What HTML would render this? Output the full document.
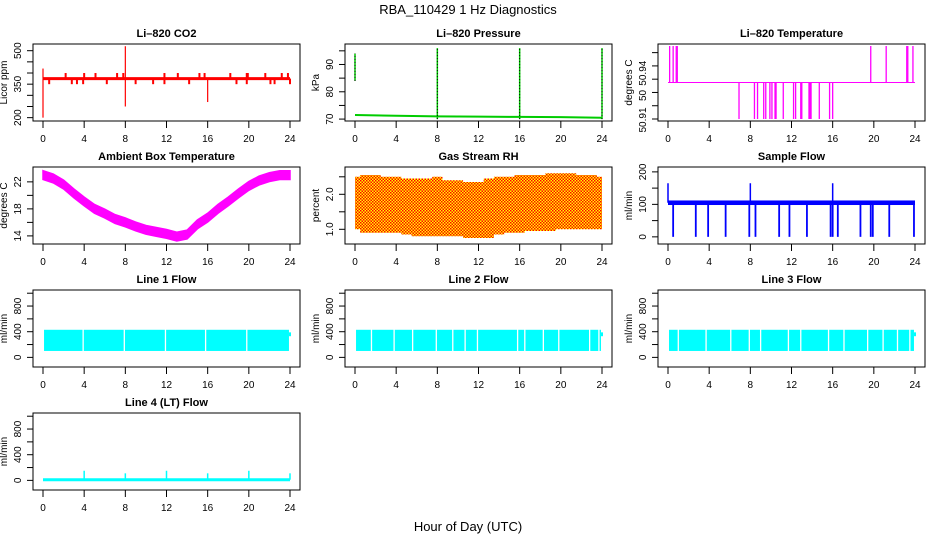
<!DOCTYPE html>
<html><head><meta charset="utf-8"><style>
html,body{margin:0;padding:0;background:#fff;}
svg{display:block;font-family:"Liberation Sans",sans-serif;}
</style></head><body>
<svg id="c" width="936" height="540" viewBox="0 0 936 540">
<text x="468" y="14" font-size="13" text-anchor="middle">RBA_110429  1 Hz Diagnostics</text>
<text x="468" y="531" font-size="13" text-anchor="middle">Hour of Day (UTC)</text>
</svg>
<script>
// ---- data arrays ----
const xTicks = [0,4,8,12,16,20,24];
const co2Base = 375;
const co2UpHours = [2.2,4.0,5.1,7.2,7.8,11.8,13.1,15.2,15.7,18.2,19.8,19.9,21.6,23.2,23.8];
const co2DownHours = [0.6,2.8,3.3,3.9,6.2,9.0,10.7,11.8,14.2,18.8,19.8,22.1,22.5,24];
const co2BigHours = [0,0,8,8,16];
const co2BigValues = [200,420,520,250,270];
const presHours = [0,4,8,12,16,20,24];
const presValues = [71.5,71.2,71.0,70.9,70.8,70.7,70.5];
const presSpikeHours = [0,8,16,24];
const presSpikeLow = [84,70,70,70];
const presSpikeHigh = [94,96,96,96];
const tempBase = 50.9375;
const tempUpHours = [0.16,0.5,0.8,0.9,19.7,21.2,23.2,23.3,23.8];
const tempDownHours = [6.9,8.4,8.7,9.3,9.5,9.9,10.1,10.4,10.5,11.2,12.2,12.4,12.9,13.0,13.7,13.8,13.9,14.7,15.7,16.0];
const ambHours = [0,1,2,3,4,5,6,7,8,9,10,11,12,13,14,15,16,17,18,19,20,21,22,23,24];
const ambValues = [23.0,22.5,21.6,20.3,19.1,18.0,17.3,16.5,16.0,15.4,14.9,14.6,14.3,13.9,14.2,15.7,16.7,18.0,19.1,20.3,21.4,22.2,22.7,23.0,23.0];
const rhTop = [2.5,2.55,2.55,2.5,2.5,2.45,2.45,2.45,2.5,2.4,2.4,2.35,2.35,2.45,2.5,2.5,2.55,2.55,2.55,2.6,2.6,2.6,2.55,2.55,2.5];
const rhBottom = [1.0,0.9,0.9,0.9,0.9,0.85,0.8,0.8,0.8,0.8,0.8,0.75,0.75,0.75,0.85,0.9,0.9,0.95,0.95,0.95,1.0,1.0,1.0,1.0,1.0];
const flowBase = 105;
const flowDownHours = [0.5,2.7,3.9,5.6,7.9,8.5,10.8,11.8,13.5,15.8,16.0,16.5,18.7,19.7,19.9,21.5,23.9];
const flowUpHours = [0,8,16];
const flowUpValue = 165;
const line1Gaps = [3.9,7.9,11.9,15.8,19.8];
const line2Gaps = [1.6,3.8,5.6,7.9,9.5,10.7,11.9,15.8,16.5,18.3,19.8,22.8,23.7];
const line3Gaps = [1.0,3.7,6.1,7.9,9.0,11.7,12.9,15.6,17.1,19.4,20.9,22.3,23.5];
const lineLow = 100, lineHigh = 430;
const line4Base = 10;
const line4SpikeHours = [4,8,12,16,20,24];
const line4SpikeValues = [150,110,150,110,150,110];

const NS="http://www.w3.org/2000/svg";
const svg=document.getElementById('c');
function mk(tag,attrs,parent){const e=document.createElementNS(NS,tag);for(const k in attrs)e.setAttribute(k,attrs[k]);(parent||svg).appendChild(e);return e;}

const cols=[{x0:43,x1:290},{x0:355,x1:602},{x0:668,x1:915}];
const rows=[44,167,290,413];
const H=77;

function panel(name,title,col,row,ymin,ymax,yt,ylabels,ytitle,lblShift){
  const c=cols[col],top=rows[row];
  const pad=(c.x1-c.x0)*0.0405;
  const L=c.x0-pad,R=c.x1+pad,B=top+H;
  const g=mk('g',{});
  
  
  const sx=h=>c.x0+(h/24)*(c.x1-c.x0);
  const sy=v=>B-(v-ymin)/(ymax-ymin)*H;
  const plot=mk('g',{},g);
  
  
  const t=mk('text',{x:(L+R)/2,y:top-7,'font-size':11,'font-weight':'bold','text-anchor':'middle'},g);
  
  
  t.textContent=title;
  const box=mk('rect',{x:L,y:top,width:R-L,height:H,fill:'none',stroke:'#000','stroke-width':1},g);
  
  
  const xa=mk('g',{},g);
  
  
  xTicks.forEach(h=>{
    mk('line',{x1:sx(h),x2:sx(h),y1:B,y2:B+7,stroke:'#000'},xa);
    const tx=mk('text',{x:sx(h),y:B+21,'font-size':10,'text-anchor':'middle'},xa);
    
    
    tx.textContent=h;
  });
  const ya=mk('g',{},g);
  
  
  yt.forEach((v,i)=>{
    mk('line',{x1:L-6,x2:L,y1:sy(v),y2:sy(v),stroke:'#000'},ya);
    if(ylabels[i]!==''){
      const off=lblShift?lblShift[i]:0;
      const tx=mk('text',{x:0,y:0,'font-size':10,'text-anchor':'middle',transform:`translate(${L-12},${sy(v)+off}) rotate(-90)`},ya);
      
      
      tx.textContent=ylabels[i];
    }
  });
  const yl=mk('text',{x:0,y:0,'font-size':10,'text-anchor':'middle',transform:`translate(${L-26},${top+H/2}) rotate(-90)`},g);
  
  
  yl.textContent=ytitle;
  return {sx,sy,plot};
}
function vline(p,h,v1,v2,col,w){mk('line',{x1:p.sx(h),x2:p.sx(h),y1:p.sy(v1),y2:p.sy(v2),stroke:col,'stroke-width':w||1.3},p.plot);}
function hline(p,h1,h2,v,col,w){mk('line',{x1:p.sx(h1),x2:p.sx(h2),y1:p.sy(v),y2:p.sy(v),stroke:col,'stroke-width':w||2},p.plot);}

// CO2
let p=panel('co2-panel','Li\u2013820 CO2',0,0,185,530,[200,250,300,350,400,450,500],['200','','','350','','','500'],'Licor ppm');
hline(p,0,24,co2Base,'#f00',3);
co2UpHours.forEach(h=>vline(p,h,co2Base,400,'#f00',2));
co2DownHours.forEach(h=>vline(p,h,co2Base,350,'#f00',2));
co2BigHours.forEach((h,i)=>vline(p,h,co2Base,co2BigValues[i],'#f00',1.2));

// Pressure
p=panel('pressure-panel','Li\u2013820 Pressure',1,0,69.3,97.5,[70,75,80,85,90,95],['70','','80','','90',''],'kPa');
mk('polyline',{points:presHours.map((h,i)=>p.sx(h)+','+p.sy(presValues[i])).join(' '),fill:'none',stroke:'#0c0','stroke-width':2},p.plot);
presSpikeHours.forEach((h,i)=>{vline(p,h,presSpikeLow[i],presSpikeHigh[i],'#0c0',1.5);mk('line',{x1:p.sx(h),x2:p.sx(h),y1:p.sy(presSpikeLow[i]),y2:p.sy(presSpikeHigh[i]),stroke:'#000','stroke-width':1,'stroke-dasharray':'1,2'},p.plot);});

// Li-820 Temperature
p=panel('temperature-panel','Li\u2013820 Temperature',2,0,50.9085,50.9665,[50.91,50.92,50.93,50.94,50.95,50.96],['50.91','','50','50.94','',''],'degrees C',[1,0,3,-6,0,0]);
hline(p,0,24,tempBase,'#f0f',1);
tempUpHours.forEach(h=>vline(p,h,tempBase,50.965,'#f0f',1.3));
tempDownHours.forEach(h=>vline(p,h,tempBase,50.91,'#f0f',1.3));

// Ambient
p=panel('ambient-panel','Ambient Box Temperature',0,1,12.8,24.2,[14,16,18,20,22],['14','','18','','22'],'degrees C');
const ambTop=ambHours.map((h,i)=>p.sx(h)+','+p.sy(ambValues[i]+0.65));
const ambBot=ambHours.map((h,i)=>p.sx(h)+','+p.sy(ambValues[i]-0.65)).reverse();
mk('polygon',{points:ambTop.concat(ambBot).join(' '),fill:'#f0f',stroke:'#f0f','stroke-width':1.5},p.plot);

// RH
p=panel('rh-panel','Gas Stream RH',1,1,0.58,2.78,[1.0,1.5,2.0,2.5],['1.0','','2.0',''],'percent');
const defs=mk('defs',{});
const pat=mk('pattern',{id:'rhpat',width:3,height:3,patternUnits:'userSpaceOnUse'},defs);
mk('rect',{width:3,height:3,fill:'#ff0'},pat);
mk('rect',{x:0,y:0,width:1.5,height:1.5,fill:'#f00'},pat);
mk('rect',{x:1.5,y:1.5,width:1.5,height:1.5,fill:'#f00'},pat);
let rp=[];
rhTop.forEach((v,i)=>{const h0=Math.max(0,i-0.5),h1=Math.min(24,i+0.5);rp.push(p.sx(h0)+','+p.sy(v),p.sx(h1)+','+p.sy(v));});
let rb=[];
rhBottom.forEach((v,i)=>{const h0=Math.max(0,i-0.5),h1=Math.min(24,i+0.5);rb.push(p.sx(h0)+','+p.sy(v),p.sx(h1)+','+p.sy(v));});
mk('polygon',{points:rp.concat(rb.reverse()).join(' '),fill:'url(#rhpat)'},p.plot);

// Sample flow
p=panel('sample-flow-panel','Sample Flow',2,1,-22,215,[0,50,100,150,200],['0','','100','','200'],'ml/min');
mk('rect',{x:p.sx(0),y:p.sy(flowBase+7),width:p.sx(24)-p.sx(0),height:p.sy(flowBase-7)-p.sy(flowBase+7),fill:'#00f'},p.plot);
flowDownHours.forEach(h=>vline(p,h,flowBase,0,'#00f',1.8));
flowUpHours.forEach(h=>vline(p,h,flowBase,flowUpValue,'#00f',1.5));

// Line flows
function lineFlow(name,title,col,row,gaps){
  const q=panel(name,title,col,row,-150,1050,[0,200,400,600,800,1000],['0','','400','','800',''],'ml/min');
  mk('rect',{x:q.sx(0.1),y:q.sy(lineHigh),width:q.sx(23.9)-q.sx(0.1),height:q.sy(lineLow)-q.sy(lineHigh),fill:'#0ff'},q.plot);
  gaps.forEach(h=>vline(q,h,lineLow-5,lineHigh+5,'#fff',1.3));
  vline(q,24,330,390,'#0ff',2);
}
lineFlow('line1-flow-panel','Line 1 Flow',0,2,line1Gaps);
lineFlow('line2-flow-panel','Line 2 Flow',1,2,line2Gaps);
lineFlow('line3-flow-panel','Line 3 Flow',2,2,line3Gaps);

// Line 4
p=panel('line4-flow-panel','Line 4 (LT) Flow',0,3,-150,1050,[0,200,400,600,800,1000],['0','','400','','800',''],'ml/min');
hline(p,0,24,line4Base,'#0ff',3);
line4SpikeHours.forEach((h,i)=>vline(p,h,line4Base,line4SpikeValues[i],'#0ff',1.5));
</script>
</body></html>
